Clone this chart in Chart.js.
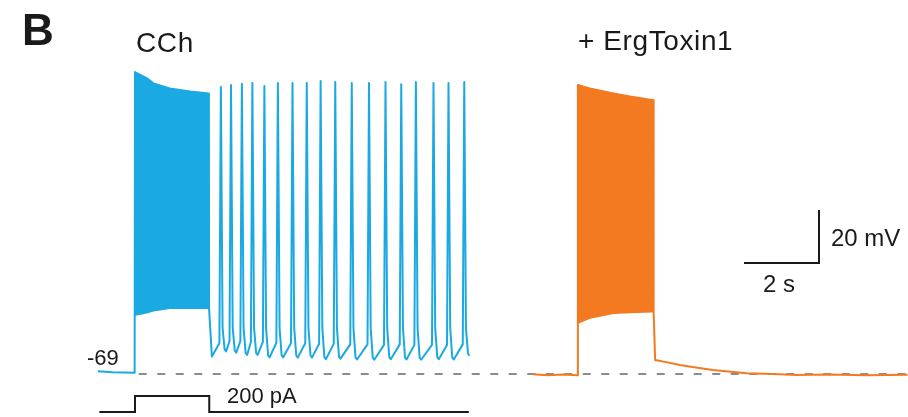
<!DOCTYPE html>
<html>
<head>
<meta charset="utf-8">
<script src="https://cdn.jsdelivr.net/npm/chart.js@4.4.1/dist/chart.umd.min.js"></script>
<style>
    html, body { margin: 0; padding: 0; background: #fff; }
    canvas { display: block; }
</style>
</head>
<body>
<canvas id="traceChart" width="908" height="417"></canvas>
<script>
// ================= DATA (time in s, voltage in mV, current in pA) =================
// CCh trace
const blueRestTimes = [0.01, 0.4, 0.99];
const blueRestValues = [-68.3, -68.7, -68.9];

const blueBurstTimes = [1.0, 1.05, 1.31, 1.49, 1.93, 2.47, 2.97];
const blueBurstTop = [44.6, 44.1, 42.3, 40.3, 38.4, 37.2, 36.5];
const blueBurstBottom = [-47.1, -47.0, -46.3, -45.5, -44.6, -44.6, -44.6];
const blueFirstTrough = [3.05, -62.8];

const spikeTimes = [3.29, 3.56, 3.85, 4.13, 4.45, 4.81, 5.20, 5.58, 5.95,
                    6.34, 6.78, 7.24, 7.68, 8.10, 8.49, 8.96, 9.36, 9.78];
const spikePeaks = [38.9, 39.7, 40.1, 40.4, 39.3, 40.4, 40.4, 40.4, 41.2,
                    40.8, 40.4, 40.4, 40.8, 40.0, 40.8, 40.4, 40.4, 40.8];
const spikeThresholds = [-57.8, -57.0, -57.0, -57.3, -57.3, -57.6, -57.8, -57.8, -58.0,
                         -58.0, -58.2, -58.2, -58.4, -58.2, -58.4, -58.4, -58.4, -58.2];
const spikeTroughs = [-60.9, -61.3, -62.2, -62.2, -63.1, -63.1, -63.2, -63.2, -63.8,
                      -63.6, -63.9, -64.0, -63.8, -63.9, -64.0, -63.8, -63.9, -62.5];
const spikeRepol = -52;   // where the down-stroke bends into the AHP

// + ErgToxin1 trace
const orangeRestTimes = [11.61, 12.0, 12.4, 12.8];
const orangeRestValues = [-69.5, -69.9, -69.6, -69.9];

const orangeBurstTimes = [12.81, 13.13, 13.76, 14.2, 14.78, 14.82];
const orangeBurstTop = [39.7, 38.4, 36.5, 35.3, 34.0, 34.0];
const orangeBurstBottom = [-50.2, -48.3, -46.5, -46.2, -45.9, -45.9];

const orangeDecayTimes = [14.87, 15.2, 15.53, 16.0, 16.41, 17.31, 18.0, 18.65, 19.5, 20.5, 21.6];
const orangeDecayValues = [-64.1, -65.0, -66.0, -67.0, -67.9, -69.1, -69.4, -69.8, -69.6, -69.9, -69.7];

// injected current step
const currentTimes = [0.05, 1.0, 1.0, 2.98, 2.98, 9.9];
const currentValues = [0, 0, 200, 200, 0, 0];

// resting level and scale bar (2 s, 20 mV)
const restLevel = -69.4;
const baselineTimes = [1.1, 21.7];
const scaleBarTimes = [17.24, 19.24, 19.24];
const scaleBarValues = [-27.5, -27.5, -7.5];

// ================= BUILD TRACES =================
const pts = (ts, vs) => ts.map((t, i) => ({ x: t, y: vs[i] }));

const blueTrace = [
    ...pts(blueRestTimes, blueRestValues),
    ...pts(blueBurstTimes, blueBurstTop),
    { x: 2.975, y: blueBurstBottom[blueBurstBottom.length - 1] },
    { x: blueFirstTrough[0], y: blueFirstTrough[1] }
];
spikeTimes.forEach((t, i) => {
    blueTrace.push({ x: t - 0.04, y: spikeThresholds[i] });
    blueTrace.push({ x: t, y: spikePeaks[i] });
    blueTrace.push({ x: t + 0.045, y: spikeRepol });
    blueTrace.push({ x: t + 0.1, y: spikeTroughs[i] + 0.8 });
    blueTrace.push({ x: t + 0.14, y: spikeTroughs[i] });
});

const orangeTrace = [
    ...pts(orangeRestTimes, orangeRestValues),
    ...pts(orangeBurstTimes, orangeBurstTop),
    { x: 14.83, y: orangeBurstBottom[orangeBurstBottom.length - 1] },
    ...pts(orangeDecayTimes, orangeDecayValues)
];

const BLUE = "#1ba9e1";
const ORANGE = "#f37a20";
const INK = "#1a1a1a";

const line = (data, color, width, extra) => Object.assign({
    data: data,
    borderColor: color,
    backgroundColor: color,
    borderWidth: width,
    pointRadius: 0,
    tension: 0,
    fill: false,
    clip: false,
    borderJoinStyle: "round"
}, extra || {});

// ================= TEXT LABELS =================
const labelPlugin = {
    id: "labels",
    afterDraw(chart) {
        const ctx = chart.ctx;
        ctx.save();
        ctx.fillStyle = INK;
        ctx.textBaseline = "alphabetic";
        ctx.font = "bold 44px 'Liberation Sans', Arial, sans-serif";
        ctx.fillText("B", 22, 45);
        ctx.font = "28px 'Liberation Sans', Arial, sans-serif";
        ctx.letterSpacing = "0.6px";
        ctx.fillText("CCh", 136, 52);
        ctx.fillText("+ ErgToxin1", 578, 50);
        ctx.letterSpacing = "0px";
        ctx.font = "22px 'Liberation Sans', Arial, sans-serif";
        ctx.fillText("-69", 87, 365);
        ctx.fillText("200 pA", 227, 403);
        ctx.font = "24px 'Liberation Sans', Arial, sans-serif";
        ctx.fillText("20 mV", 831, 246);
        ctx.fillText("2 s", 763, 292);
        ctx.restore();
    }
};

// ================= CHART =================
new Chart(document.getElementById("traceChart"), {
    type: "line",
    data: {
        datasets: [
            line(blueTrace, BLUE, 2),
            line(pts(blueBurstTimes, blueBurstTop), BLUE, 0, { fill: "+1" }),
            line(pts(blueBurstTimes, blueBurstBottom), BLUE, 1.5),
            line(orangeTrace, ORANGE, 2),
            line(pts(orangeBurstTimes, orangeBurstTop), ORANGE, 0, { fill: "+1" }),
            line(pts(orangeBurstTimes, orangeBurstBottom), ORANGE, 1.5),
            line(pts(currentTimes, currentValues), INK, 2, { yAxisID: "yI", borderJoinStyle: "miter" }),
            line(pts(scaleBarTimes, scaleBarValues), INK, 2, { borderJoinStyle: "miter" }),
            line(pts(baselineTimes, [restLevel, restLevel]), "#8c8c8c", 2, { borderDash: [8, 10.5] })
        ]
    },
    options: {
        responsive: false,
        animation: false,
        layout: { padding: 0 },
        plugins: {
            legend: { display: false },
            tooltip: { enabled: false }
        },
        scales: {
            x: { type: "linear", min: -2.6, max: 21.6133, display: false },
            y: { type: "linear", min: -85.61, max: 71.75, display: false },
            yI: { type: "linear", min: -62.5, max: 5150, display: false }
        }
    },
    plugins: [labelPlugin]
});
</script>
</body>
</html>
